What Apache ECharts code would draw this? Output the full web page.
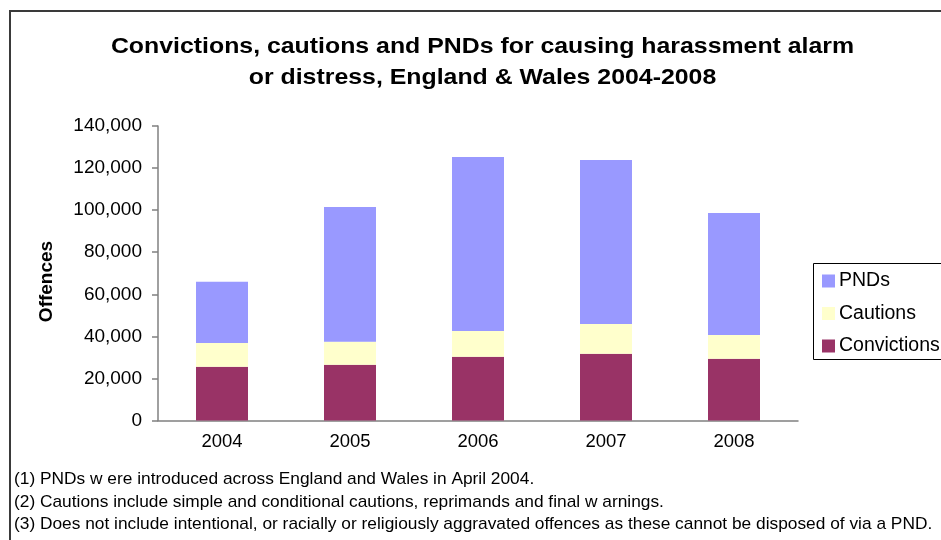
<!DOCTYPE html>
<html>
<head>
<meta charset="utf-8">
<script src="https://cdn.jsdelivr.net/npm/echarts@6/dist/echarts.min.js"></script>
<style>
  html, body { margin: 0; padding: 0; background: #fff; }
  #chart { width: 941px; height: 540px; }
</style>
</head>
<body>
<div id="chart"></div>
<script>
// Offences disposed of for causing harassment, alarm or distress
const years = ['2004', '2005', '2006', '2007', '2008'];
const convictions = [25500, 26500, 30300, 31700, 29300];
const cautions = [11400, 10900, 12300, 14200, 11400];
const pnds = [29000, 64100, 82700, 77900, 58000];
const yTicks = { min: 0, max: 140000, step: 20000 };
const yAxisTitle = 'Offences';
const titleLines = [
  'Convictions, cautions and PNDs for causing harassment alarm',
  'or distress, England & Wales 2004-2008'
];
const footnotes = [
  '(1) PNDs w ere introduced across England and Wales in April 2004.',
  '(2) Cautions include simple and conditional cautions, reprimands and final w arnings.',
  '(3) Does not include intentional, or racially or religiously aggravated offences as these cannot be disposed of via a PND.'
];

const font = 'Liberation Sans, Arial, sans-serif';
const chart = echarts.init(document.getElementById('chart'));

// Title lines, drawn slightly wide
const titleGraphics = titleLines.map((t, i) => ({
  type: 'text',
  x: 482.5,
  y: 46.5 + i * 31.5,
  scaleX: 1.13,
  style: {
    text: t, font: 'bold 22px ' + font, fill: '#000',
    align: 'center', verticalAlign: 'middle'
  }
}));

// Footnotes below the plot
const footGraphics = footnotes.map((t, i) => ({
  type: 'text',
  x: 14,
  y: 479.5 + i * 22.7,
  scaleX: 1.09,
  style: {
    text: t, font: '15.9px ' + font, fill: '#000',
    align: 'left', verticalAlign: 'middle'
  }
}));

chart.setOption({
  animation: false,
  legend: {
    orient: 'vertical',
    left: 813,
    top: 263,
    data: ['PNDs', 'Cautions', 'Convictions'],
    itemWidth: 13,
    itemHeight: 13,
    itemGap: 12.5,
    padding: [8, 8, 8, 9],
    icon: 'rect',
    textStyle: { fontFamily: font, fontSize: 19.5, color: '#000', padding: [0, 0, 0, -1] }
  },
  grid: { left: 158, right: 143, top: 126, bottom: 119.5 },
  xAxis: {
    type: 'category',
    data: years,
    axisLine: { lineStyle: { color: '#808080', width: 1.5 } },
    axisTick: { length: 6, lineStyle: { color: '#808080', width: 1.5 } },
    axisLabel: { fontFamily: font, fontSize: 18.5, color: '#000', margin: 12 }
  },
  yAxis: {
    type: 'value',
    min: yTicks.min,
    max: yTicks.max,
    interval: yTicks.step,
    axisLine: { show: true, lineStyle: { color: '#808080', width: 1.5 } },
    axisTick: { show: true, length: 6, lineStyle: { color: '#808080', width: 1.5 } },
    splitLine: { show: false },
    axisLabel: {
      fontFamily: font, fontSize: 19, color: '#000', margin: 16,
      formatter: v => v.toLocaleString('en-GB')
    }
  },
  series: [
    { name: 'Convictions', type: 'bar', stack: 'total', data: convictions, barWidth: 52, itemStyle: { color: '#993366' } },
    { name: 'Cautions', type: 'bar', stack: 'total', data: cautions, barWidth: 52, itemStyle: { color: '#FFFFCC' } },
    { name: 'PNDs', type: 'bar', stack: 'total', data: pnds, barWidth: 52, itemStyle: { color: '#9999FF' } }
  ],
  graphic: [
    {
      type: 'rect',
      shape: { x: 10, y: 11, width: 1000, height: 600 },
      style: { fill: 'none', stroke: '#3a3a3a', lineWidth: 2 },
      silent: true
    },
    {
      // legend frame, running past the right edge
      type: 'rect',
      shape: { x: 813.5, y: 263.5, width: 200, height: 96 },
      style: { fill: 'none', stroke: '#000', lineWidth: 1 },
      silent: true
    },
    {
      type: 'text',
      x: 47,
      y: 281.5,
      rotation: Math.PI / 2,
      style: {
        text: yAxisTitle, font: 'bold 19px ' + font, fill: '#000',
        align: 'center', verticalAlign: 'middle'
      }
    }
  ].concat(titleGraphics, footGraphics)
});
</script>
</body>
</html>
